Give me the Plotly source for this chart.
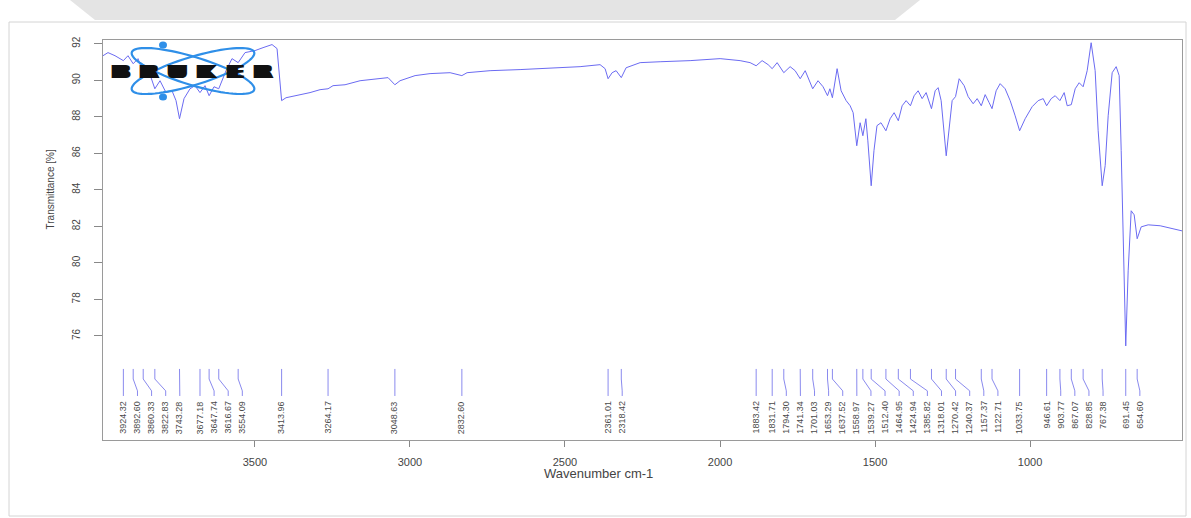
import numpy as np
import plotly.graph_objects as go

# IR spectrum nodes: wavenumber (cm-1) and transmittance (%)
wavenumber = [
    3990.0, 3973.9, 3951.3, 3924.32, 3909.4, 3892.60, 3877.1, 3860.33, 3844.8, 3822.83,
    3806.1, 3786.8, 3767.4, 3754.5, 3743.28, 3728.7, 3709.4, 3693.2, 3677.18, 3661.0,
    3647.74, 3632.0, 3616.67, 3593.2, 3573.9, 3554.09, 3531.9, 3499.7, 3473.9, 3444.8,
    3428.7, 3422.3, 3413.96, 3399.7, 3380.3, 3354.5, 3322.3, 3290.0, 3264.17, 3248.1,
    3209.4, 3160.9, 3112.6, 3070.6, 3048.63, 3032.0, 2983.5, 2935.2, 2870.6, 2832.60,
    2815.8, 2741.6, 2644.8, 2548.1, 2451.3, 2386.8, 2370.6, 2361.01, 2348.0, 2335.1,
    2318.42, 2302.9, 2257.7, 2193.2, 2096.4, 1999.7, 1935.2, 1902.9, 1883.42, 1864.2,
    1844.8, 1831.71, 1815.8, 1794.30, 1773.9, 1757.7, 1741.34, 1725.3, 1701.03, 1683.9,
    1667.7, 1653.29, 1645.6, 1637.52, 1622.3, 1609.4, 1593.2, 1580.3, 1570.6, 1558.97,
    1548.1, 1539.27, 1529.6, 1523.2, 1512.40, 1503.5, 1493.8, 1480.9, 1464.95, 1451.3,
    1438.4, 1424.94, 1412.6, 1399.7, 1385.82, 1373.9, 1361.0, 1348.1, 1335.2, 1318.01,
    1306.1, 1296.5, 1286.8, 1270.42, 1257.7, 1251.3, 1240.37, 1228.7, 1212.6, 1199.7,
    1183.5, 1170.6, 1157.37, 1144.8, 1132.0, 1122.71, 1109.4, 1096.5, 1080.4, 1064.2,
    1048.1, 1033.75, 1015.8, 993.2, 973.9, 957.7, 946.61, 931.9, 919.0, 903.77,
    890.0, 880.3, 867.07, 854.5, 841.6, 828.85, 815.8, 803.0, 790.1, 780.4,
    767.38, 757.8, 748.1, 735.2, 722.3, 712.6, 706.1, 691.45, 683.6, 673.9,
    664.3, 654.60, 641.6, 619.1, 580.4, 541.7, 510.0,
]
transmittance = [
    91.34, 91.51, 91.34, 91.07, 91.34, 90.90, 91.18, 90.41, 90.63, 89.53,
    89.97, 89.32, 89.42, 88.88, 87.89, 88.99, 89.53, 89.70, 89.32, 89.70,
    89.15, 89.64, 89.53, 90.52, 91.18, 90.96, 91.51, 91.62, 91.78, 91.95,
    91.73, 90.52, 88.88, 89.04, 89.10, 89.21, 89.32, 89.48, 89.53, 89.70,
    89.75, 89.97, 90.08, 90.14, 89.75, 89.97, 90.25, 90.36, 90.41, 90.25,
    90.41, 90.52, 90.58, 90.68, 90.74, 90.85, 90.63, 90.08, 90.41, 90.52,
    90.14, 90.68, 90.96, 91.01, 91.07, 91.18, 91.07, 90.96, 90.79, 91.07,
    90.85, 90.63, 90.96, 90.41, 90.74, 90.52, 90.08, 90.52, 89.53, 89.97,
    89.64, 89.15, 89.53, 89.04, 90.63, 89.42, 88.88, 88.60, 88.22, 86.41,
    87.67, 86.96, 87.89, 86.68, 84.22, 86.14, 87.51, 87.67, 87.23, 87.89,
    88.22, 87.78, 88.60, 88.88, 88.60, 89.15, 89.42, 88.99, 89.32, 88.44,
    89.42, 89.59, 88.88, 85.86, 88.05, 88.88, 89.10, 90.08, 89.70, 89.10,
    88.71, 88.99, 88.60, 89.21, 88.77, 88.44, 89.42, 89.81, 89.53, 88.88,
    88.05, 87.23, 87.89, 88.55, 88.88, 88.99, 88.60, 88.99, 89.15, 88.88,
    89.32, 88.60, 88.66, 89.53, 89.86, 89.64, 90.52, 92.05, 90.52, 87.23,
    84.22, 85.32, 88.05, 90.41, 90.74, 90.25, 86.14, 75.45, 79.56, 82.85,
    82.63, 81.32, 81.97, 82.08, 82.03, 81.86, 81.75,
]

# Picked band positions (cm-1), labelled under the spectrum
peak_wavenumbers = [
    3924.32, 3892.60, 3860.33, 3822.83, 3743.28, 3677.18, 3647.74, 3616.67, 3554.09,
    3413.96, 3264.17, 3048.63, 2832.60, 2361.01, 2318.42,
    1883.42, 1831.71, 1794.30, 1741.34, 1701.03, 1653.29, 1637.52, 1558.97, 1539.27,
    1512.40, 1464.95, 1424.94, 1385.82, 1318.01, 1270.42, 1240.37, 1157.37, 1122.71,
    1033.75, 946.61, 903.77, 867.07, 828.85, 767.38, 691.45, 654.60,
]

x_ticks = [3500, 3000, 2500, 2000, 1500, 1000]
y_ticks = [76, 78, 80, 82, 84, 86, 88, 90, 92]

X_RANGE = [3990, 510]
Y_RANGE = [70.3, 92.2]
W, H = 1191, 518
M_L, M_R, M_T, M_B = 103, 9, 40, 78
PW, PH = W - M_L - M_R, H - M_T - M_B

LINE_BLUE = "#6b6bf2"
FONT = "Liberation Sans, Arial, sans-serif"


def px(x, y):
    """Pixel position on the page -> paper coordinates."""
    return (x - M_L) / PW, (H - M_B - y) / PH


def spread(positions, gap):
    """Push label positions apart (descending wavenumber) so they keep `gap`."""
    out = []
    for p in positions:
        if out and out[-1] - p < gap:
            p = out[-1] - gap
        out.append(p)
    return out


fig = go.Figure()

fig.add_trace(go.Scatter(
    x=wavenumber, y=transmittance, mode="lines",
    line=dict(color=LINE_BLUE, width=1), hoverinfo="skip", showlegend=False,
))

# Leader lines from each band to its label
label_pos = spread(peak_wavenumbers, 45.5)
y_top, y_b1, y_b2, y_bot, y_text = 74.19, 73.64, 72.99, 72.71, 72.55
lx, ly = [], []
for pk, lb in zip(peak_wavenumbers, label_pos):
    lx += [pk, pk, lb, lb, None]
    ly += [y_top, y_b1, y_b2, y_bot, None]
fig.add_trace(go.Scatter(
    x=lx, y=ly, mode="lines", line=dict(color="#8a8aee", width=1),
    hoverinfo="skip", showlegend=False,
))

annotations = []
for pk, lb in zip(peak_wavenumbers, label_pos):
    annotations.append(dict(
        x=lb, y=y_text, xref="x", yref="y", text=f"{pk:.2f}", showarrow=False,
        textangle=-90, xanchor="center", yanchor="top",
        font=dict(family=FONT, size=9, color="#4a4a4a"),
    ))

# Axis titles
tx, ty = px(42, 190)
annotations.append(dict(
    x=tx, y=ty, xref="paper", yref="paper", text="Transmittance [%]",
    showarrow=False, textangle=-90, font=dict(family=FONT, size=10, color="#444444"),
))
tx, ty = px(598, 483)
annotations.append(dict(
    x=tx, y=ty, xref="paper", yref="paper", text="Wavenumber cm-1",
    showarrow=False, font=dict(family=FONT, size=13, color="#444444"),
))

# Instrument logo: wide heavy lettering over two crossing orbits
letters = "BRUKER"
for i, ch in enumerate(letters):
    ax, ay = px(121 + i * 28.4, 71)
    annotations.append(dict(
        x=ax, y=ay, xref="paper", yref="paper", text=f"<b>{ch}</b>",
        showarrow=False, xanchor="center", yanchor="middle",
        font=dict(family="DejaVu Sans", size=18, color="#111111",
                  shadow="4px 0 0 #111111, -4px 0 0 #111111, 2px 0 0 #111111, -2px 0 0 #111111"),
    ))

shapes = []


def ellipse_path(cx, cy, a, b, ang_deg, n=80):
    t = np.linspace(0, 2 * np.pi, n)
    ang = np.radians(ang_deg)
    xs = cx + a * np.cos(t) * np.cos(ang) - b * np.sin(t) * np.sin(ang)
    ys = cy + a * np.cos(t) * np.sin(ang) + b * np.sin(t) * np.cos(ang)
    pts = [px(x, y) for x, y in zip(xs, ys)]
    return "M " + " L ".join(f"{p[0]:.5f},{p[1]:.5f}" for p in pts) + " Z"


for ang in (17, -17):
    shapes.append(dict(
        type="path", path=ellipse_path(193, 71, 64, 14, ang), xref="paper", yref="paper",
        line=dict(color="#2f8fe8", width=2.2), fillcolor="rgba(0,0,0,0)", layer="above",
    ))
for dy in (45, 97):
    x0, y0 = px(159, dy - 3.5)
    x1, y1 = px(167, dy + 3.5)
    shapes.append(dict(type="circle", xref="paper", yref="paper", x0=x0, y0=y0, x1=x1, y1=y1,
                       fillcolor="#2f8fe8", line=dict(width=0), layer="above"))

# Page frame and header band
x0, y0 = px(9, 22)
x1, y1 = px(1186, 516)
shapes.append(dict(type="rect", xref="paper", yref="paper", x0=x0, y0=y1, x1=x1, y1=y0,
                   line=dict(color="#d4d4d4", width=1), layer="below"))
band = [px(70, 0), px(920, 0), px(895, 20), px(95, 20)]
shapes.append(dict(
    type="path", xref="paper", yref="paper", layer="below",
    path="M " + " L ".join(f"{a:.5f},{b:.5f}" for a, b in band) + " Z",
    fillcolor="#e4e4e4", line=dict(width=0),
))

fig.update_layout(
    width=W, height=H,
    margin=dict(l=M_L, r=M_R, t=M_T, b=M_B),
    paper_bgcolor="white", plot_bgcolor="white",
    showlegend=False,
    annotations=annotations,
    shapes=shapes,
    xaxis=dict(
        range=X_RANGE, tickvals=x_ticks, ticktext=[str(v) for v in x_ticks],
        ticks="outside", ticklen=6, tickcolor="#888888", showgrid=False, zeroline=False,
        showline=True, linecolor="#9a9a9a", linewidth=1, mirror=True,
        tickfont=dict(family=FONT, size=11, color="#444444"), ticklabelstandoff=6,
    ),
    yaxis=dict(
        range=Y_RANGE, tickvals=y_ticks, ticktext=[str(v) for v in y_ticks],
        ticks="outside", ticklen=8, tickcolor="#888888", showgrid=False, zeroline=False,
        showline=True, linecolor="#9a9a9a", linewidth=1, mirror=True, tickangle=-90,
        tickfont=dict(family=FONT, size=10, color="#444444"), ticklabelstandoff=10,
    ),
)

fig.write_html("out.html")
